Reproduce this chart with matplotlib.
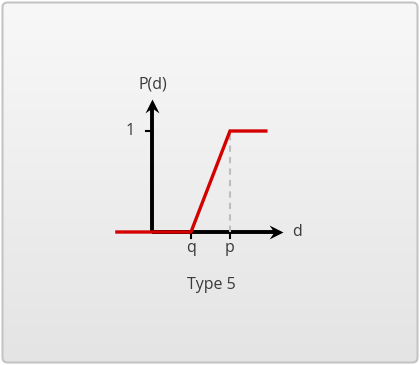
import numpy as np
import matplotlib.pyplot as plt
from matplotlib.patches import FancyBboxPatch
from matplotlib.path import Path
from matplotlib.colors import LinearSegmentedColormap

# piecewise membership curve (type 5): 0 up to q, linear ramp to 1 at p, then 1
curve_x = [-0.9, 1.0, 2.0, 2.92]
curve_y = [0.0, 0.0, 1.0, 1.0]
tick_x = [1.0, 2.0]
tick_labels = ["q", "p"]
title = "Type 5"

plt.rcParams['font.family'] = ['Open Sans', 'DejaVu Sans']

W, H = 420, 365
fig = plt.figure(figsize=(W / 100, H / 100), dpi=100)

# card background in pixel coordinates
bg = fig.add_axes([0, 0, 1, 1])
bg.set_xlim(0, W)
bg.set_ylim(H, 0)
bg.axis('off')
card = FancyBboxPatch((2.5, 2.5), W - 5, H - 5, boxstyle="round,pad=0,rounding_size=5",
                      facecolor='none', edgecolor='#c4c4c4', lw=1.5, zorder=3)
bg.add_patch(card)
grad = np.linspace(0, 1, 256)[:, None]
im = bg.imshow(grad, cmap=LinearSegmentedColormap.from_list('card', ['#f8f8f8', '#e4e4e4']),
               extent=[2.5, W - 2.5, H - 2.5, 2.5], aspect='auto', zorder=1)
im.set_clip_path(card)

# diagram axes: one x unit = 39 px, one y unit = 101 px
ax = fig.add_axes([105.2 / W, 72.4 / H, 202.8 / W, 222.2 / H])
ax.set_xlim(-1.2, 4.0)
ax.set_ylim(-0.6, 1.6)
ax.axis('off')
ax.patch.set_alpha(0)

# notched arrowhead markers, tip at the marker origin
right_head = Path([(0, 0), (-1, 0.5), (-0.65, 0), (-1, -0.5), (0, 0)],
                  [Path.MOVETO, Path.LINETO, Path.LINETO, Path.LINETO, Path.CLOSEPOLY])
up_head = Path([(0, 0), (0.5, -1), (0, -0.65), (-0.5, -1), (0, 0)],
               [Path.MOVETO, Path.LINETO, Path.LINETO, Path.LINETO, Path.CLOSEPOLY])

x_end, y_end = 3.36, 1.32
ax.plot([0, 0], [0, y_end - 0.08], color='black', lw=2.8, solid_capstyle='butt')
ax.plot([0, x_end - 0.2], [0, 0], color='black', lw=2.8, solid_capstyle='butt')
ax.plot([0], [y_end], marker=up_head, ms=20, color='black', mew=0)
ax.plot([x_end], [0], marker=right_head, ms=20, color='black', mew=0)

# ticks
ax.plot([-0.16, 0], [1, 1], color='black', lw=1.5)
for tx in tick_x:
    ax.plot([tx, tx], [0, -0.06], color='black', lw=1.5)

# dashed guide at p
ax.plot([curve_x[2], curve_x[2]], [0, curve_y[2]], color='#bdbdbd', lw=1.5,
        ls=(0, (3, 2.5)))

ax.plot(curve_x, curve_y, color='#d40000', lw=2.4, solid_joinstyle='miter', zorder=5)

txt = dict(color='#3a3a3a', fontsize=11.5, ha='center', va='center')
ax.text(0.03, 1.46, "P(d)", **txt)
ax.text(-0.56, 1.0, "1", **txt)
for tx, lab in zip(tick_x, tick_labels):
    ax.text(tx, -0.16, lab, **txt)
ax.text(3.72, 0.0, "d", **txt)
ax.text(1.52, -0.525, title, **txt)

fig.savefig('out.png', dpi=100)
